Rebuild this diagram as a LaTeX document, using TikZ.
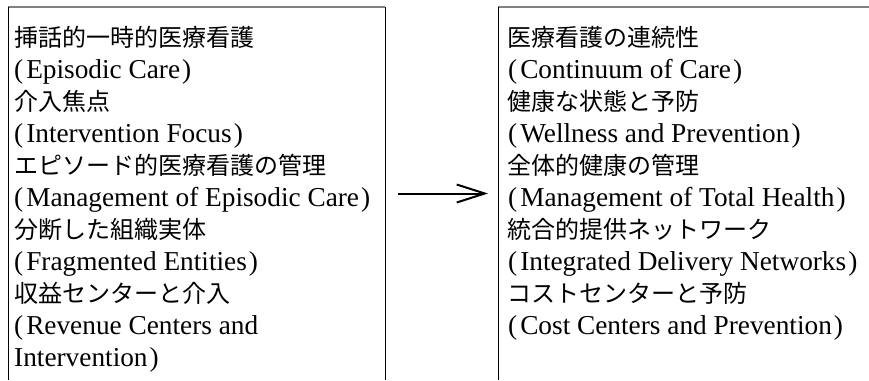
\documentclass[tikz,border=0pt]{standalone}
\usepackage{fontspec}
\setmainfont{Liberation Serif}
\newfontfamily\jp{Noto Sans CJK JP}
\usetikzlibrary{arrows.meta}
\definecolor{edgegray}{RGB}{128,128,128}
\newcommand\myop{(\kern3pt}
\newcommand\mycp{\kern2pt)}
\begin{document}
\begin{tikzpicture}[x=1pt,y=-1pt,
  jpline/.style={anchor=base west,inner sep=0pt,font=\jp\fontsize{24}{28}\selectfont},
  enline/.style={anchor=base west,inner sep=0pt,font=\fontsize{27.3}{32}\selectfont},
  boxarea/.style={inner sep=0pt,outer sep=0pt},
  topedge/.style={draw=edgegray,line width=2pt},
  sideedge/.style={draw=black,line width=1pt},
  arr/.style={-{Straight Barb[length=28pt,width=18pt]},line width=2pt}]
\useasboundingbox (0,0) rectangle (869,380);
% box areas
\node[boxarea,minimum width=377pt,minimum height=373pt] (lbox) at (196.5,193.5) {};
\node[boxarea,minimum width=371pt,minimum height=373pt] (rbox) at (683.5,193.5) {};
% left box edges
\draw[topedge] (lbox.north west) -- (lbox.north east);
\draw[sideedge] (lbox.north west) -- (lbox.south west);
\draw[sideedge] (lbox.north east) -- (lbox.south east);
% right box edges
\draw[topedge] (rbox.north west) -- (rbox.north east);
\draw[sideedge] (rbox.north west) -- (rbox.south west);
% left texts
\node[jpline] (l1) at (14,46) {挿話的一時的医療看護};
\node[enline] (l2) at (14,78) {\myop Episodic Care\mycp};
\node[jpline] (l3) at (14,110) {介入焦点};
\node[enline] (l4) at (14,142) {\myop Intervention Focus\mycp};
\node[jpline] (l5) at (14,174) {エピソード的医療看護の管理};
\node[enline] (l6) at (14,206) {\myop Management of Episodic Care\mycp};
\node[jpline] (l7) at (14,238) {分断した組織実体};
\node[enline] (l8) at (14,270) {\myop Fragmented Entities\mycp};
\node[jpline] (l9) at (14,302) {収益センターと介入};
\node[enline] (l10) at (14,334) {\myop Revenue Centers and};
\node[enline] (l11) at (14,366) {Intervention\mycp};
% right texts
\node[jpline] (r1) at (507,46) {医療看護の連続性};
\node[enline] (r2) at (508,78) {\myop Continuum of Care\mycp};
\node[jpline] (r3) at (507,110) {健康な状態と予防};
\node[enline] (r4) at (508,142) {\myop Wellness and Prevention\mycp};
\node[jpline] (r5) at (507,174) {全体的健康の管理};
\node[enline] (r6) at (508,206) {\myop Management of Total Health\mycp};
\node[jpline] (r7) at (507,238) {統合的提供ネットワーク};
\node[enline] (r8) at (508,270) {\myop Integrated Delivery Networks\mycp};
\node[jpline] (r9) at (507,302) {コストセンターと予防};
\node[enline] (r10) at (508,334) {\myop Cost Centers and Prevention\mycp};
% arrow
\draw[arr,shorten <=13pt,shorten >=10pt] (lbox.east) -- (rbox.west);
\end{tikzpicture}
\end{document}
